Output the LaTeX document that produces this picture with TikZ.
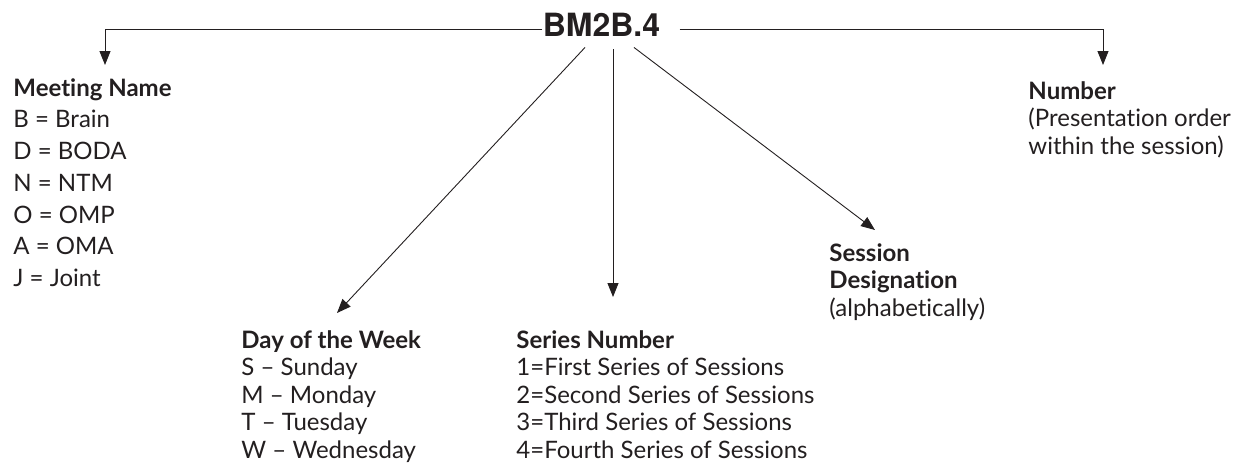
\documentclass[tikz,border=0pt]{standalone}
\usepackage{fontspec}
\setmainfont{Lato}[Ligatures=NoCommon]
\newfontfamily\hdfont{TeX Gyre Heros}
\usetikzlibrary{arrows.meta,calc}
\definecolor{ink}{RGB}{35,31,32}
\begin{document}
\begin{tikzpicture}[x=1pt,y=-1pt,line width=0.9pt,draw=ink,
  arr/.style={-{Triangle[length=14pt,width=11pt]}},
  blk/.style={anchor=north west,inner sep=0pt,align=left,text=ink,
    font=\fontsize{24}{27.5}\selectfont},
  meetblk/.style={blk,font=\fontsize{24}{31.7}\selectfont}]
\useasboundingbox (0,0) rectangle (1237,464);
\node[inner xsep=0pt,inner ysep=11pt,anchor=base,text=ink,
  font=\hdfont\bfseries\fontsize{32}{32}\selectfont] (top) at (601.5,36) {BM2B.4};
\node[meetblk] (meet) at (13,78) {\textbf{Meeting Name}\\B = Brain\\D = BODA\\N = NTM\\O = OMP\\A = OMA\\J = Joint};
\node[blk] (num) at (1028,81) {\textbf{Number}\\(Presentation order\\within the session)};
\node[blk] (sess) at (829,243) {\textbf{Session}\\\textbf{Designation}\\(alphabetically)};
\node[blk] (day) at (241,330) {\textbf{Day of the Week}\\S – Sunday\\M – Monday\\T – Tuesday\\W – Wednesday};
\node[blk] (ser) at (516,330) {\textbf{Series Number}\\1=First Series of Sessions\\2=Second Series of Sessions\\3=Third Series of Sessions\\4=Fourth Series of Sessions};
\coordinate (lc) at (105,29);
\coordinate (rc) at (1103,29);
\coordinate (tM) at (105,65);
\coordinate (tN) at (1103,65);
\coordinate (tD) at (337,313);
\coordinate (tS) at (613,297);
\coordinate (tG) at (875,230);
\draw[arr] (top.west |- lc) -| (tM);
\draw[arr] ($(top.east |- rc)+(19,0)$) -| (tN);
\draw[arr] ($(top.south)+(-16.5,0)$) -- (tD);
\draw[arr] ($(top.south)+(11.5,2)$) -- (tS);
\draw[arr] ($(top.south)+(32.5,0)$) -- (tG);
\end{tikzpicture}
\end{document}
